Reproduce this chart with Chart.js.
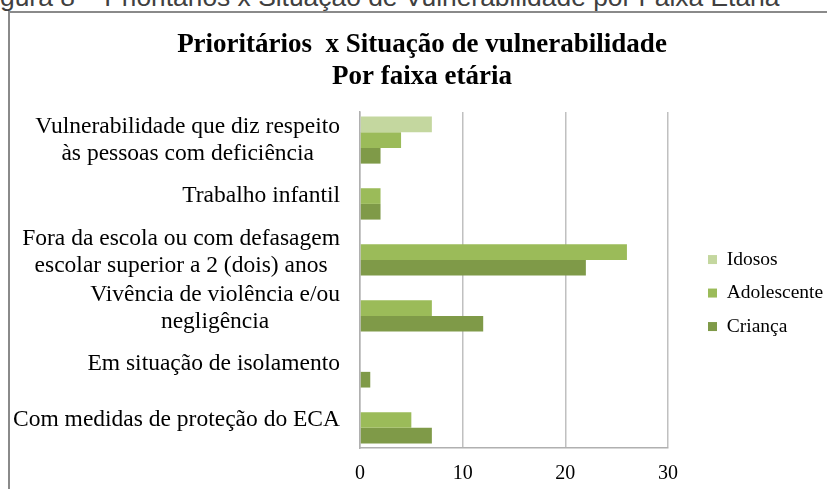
<!DOCTYPE html>
<html lang="pt">
<head>
<meta charset="utf-8">
<title>Prioritários x Situação de vulnerabilidade</title>
<script src="https://cdn.jsdelivr.net/npm/chart.js@4.4.1/dist/chart.umd.min.js"></script>
<style>
  html, body { margin: 0; padding: 0; background: #fff; overflow: hidden; }
  body { width: 827px; height: 489px; position: relative; }
  .caption {
    position: absolute; left: -22px; top: -16px;
    font: 26.4px "Liberation Sans", Arial, sans-serif; line-height: 26px;
    color: #404040; white-space: nowrap;
  }
  .frame { position: absolute; left: 8px; top: 11px; width: 900px; height: 600px; border: 2px solid #8a8a8a; }
  #chart { position: absolute; left: 0; top: 0; }
</style>
</head>
<body>
<div class="caption">Figura 8 – Prioritários x Situação de Vulnerabilidade por Faixa Etária</div>
<div class="frame"></div>
<canvas id="chart" width="827" height="489"></canvas>
<script>
// categories, top to bottom
const categories = [
  ["Vulnerabilidade que diz respeito", "às pessoas com deficiência"],
  "Trabalho infantil",
  ["Fora da escola ou com defasagem", "escolar superior a 2 (dois) anos"],
  ["Vivência de violência e/ou", "negligência"],
  "Em situação de isolamento",
  "Com medidas de proteção do ECA"
];
const idosos = [7, 0, 0, 0, 0, 0];
const adolescente = [4, 2, 26, 7, 0, 5];
const crianca = [2, 2, 22, 12, 1, 7];
const xTicks = [0, 10, 20, 30];

const serif = '"Liberation Serif", "Times New Roman", serif';

// draw the y labels right aligned as a block, lines centered inside it (like Excel does)
const categoryLabels = {
  id: "categoryLabels",
  afterDraw(chart) {
    const { ctx } = chart;
    const y = chart.scales.y;
    ctx.save();
    ctx.font = "23.5px " + serif;
    ctx.fillStyle = "#000";
    ctx.textAlign = "center";
    ctx.textBaseline = "middle";
    categories.forEach((label, i) => {
      const lines = [].concat(label);
      const widest = Math.max(...lines.map((l) => ctx.measureText(l).width));
      const cx = y.right - 20 - widest / 2;
      const cy = y.getPixelForTick(i);
      lines.forEach((line, k) => {
        ctx.fillText(line, cx, cy + (k - (lines.length - 1) / 2) * 27);
      });
    });
    ctx.restore();
  }
};

new Chart(document.getElementById("chart"), {
  type: "bar",
  data: {
    labels: categories,
    datasets: [
      { label: "Idosos", data: idosos, backgroundColor: "#c4d79f" },
      { label: "Adolescente", data: adolescente, backgroundColor: "#9bbb59" },
      { label: "Criança", data: crianca, backgroundColor: "#7f9a48" }
    ]
  },
  options: {
    indexAxis: "y",
    responsive: false,
    animation: false,
    devicePixelRatio: 1,
    categoryPercentage: 0.84,
    barPercentage: 1,
    layout: { padding: { left: 17, right: 0, top: 0, bottom: 0 } },
    plugins: {
      tooltip: { enabled: false },
      title: {
        display: true,
        text: ["Prioritários  x Situação de vulnerabilidade", "Por faixa etária"],
        color: "#000",
        font: { family: serif, size: 27, weight: "bold", lineHeight: 1.15 },
        padding: { top: 30, bottom: 20 }
      },
      legend: {
        position: "right",
        fullSize: false,
        maxWidth: 133,
        title: { display: true, text: "", font: { size: 10 }, padding: { top: 14, bottom: 0 } },
        labels: {
          boxWidth: 9,
          boxHeight: 9,
          padding: 14,
          color: "#000",
          font: { family: serif, size: 19.5 }
        }
      }
    },
    scales: {
      x: {
        min: 0,
        max: 30,
        afterBuildTicks: (s) => { s.ticks = xTicks.map((v) => ({ value: v })); },
        afterFit: (s) => { s.height = 41; },
        grid: { color: "#c0c0c0", lineWidth: 1.5, drawTicks: false },
        border: { color: "#b0b0b0", width: 1.5 },
        ticks: { color: "#000", padding: 14, font: { family: serif, size: 20 } }
      },
      y: {
        afterFit: (s) => { s.width = 343; },
        grid: { display: false },
        border: { color: "#b0b0b0", width: 1.5 },
        ticks: { color: "rgba(0,0,0,0)", autoSkip: false, font: { family: serif, size: 23 } }
      },
      // empty axis, only keeps the legend away from the plot
      spacer: {
        type: "linear",
        position: "right",
        grid: { display: false },
        border: { display: false },
        ticks: { display: false },
        afterFit: (s) => { s.width = 26; }
      }
    }
  },
  plugins: [categoryLabels]
});
</script>
</body>
</html>
